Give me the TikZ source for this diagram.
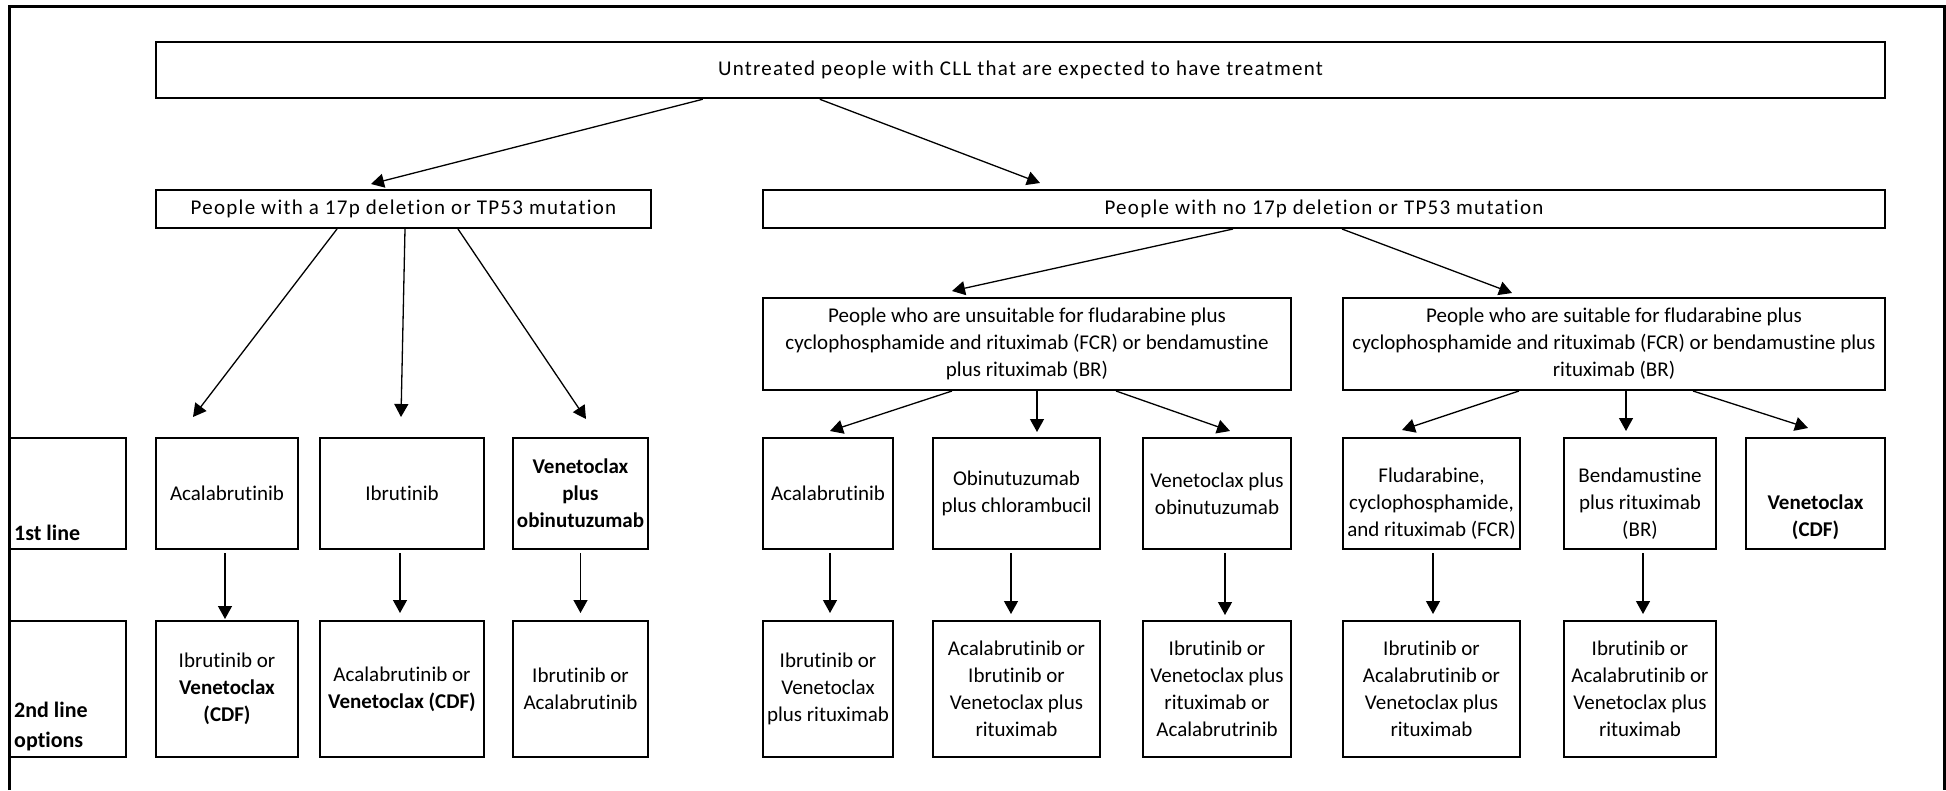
\documentclass[tikz,border=0pt]{standalone}
\usepackage{fontspec}
\setmainfont{Carlito}[Ligatures={NoCommon}]
\usetikzlibrary{arrows.meta}
\begin{document}
\begin{tikzpicture}[x=1pt,y=-1pt,
  box/.style={draw, line width=2pt, inner sep=0pt, align=center,
    font=\fontsize{21}{27}\selectfont},
  boldbox/.style={box, font=\fontsize{21}{27}\selectfont\bfseries},
  widebox/.style={box, font=\fontsize{21}{27}\selectfont\addfontfeature{LetterSpace=6}},
  plain/.style={inner sep=0pt, align=center, font=\fontsize{21}{27}\selectfont},
  lbltext/.style={inner sep=0pt, align=left, font=\fontsize{22}{30}\selectfont\bfseries},
  arr/.style={line width=1.3pt, -{Triangle[width=14pt,length=13pt]}},
  row1/.style={minimum height=111pt},
  row2/.style={minimum height=136pt}]
\useasboundingbox (0,0) rectangle (1946,790);
% outer frame
\draw[line width=3pt] (9,790) -- (9,6) -- (1944,6) -- (1944,790);

% top level
\node[widebox, line width=2.5pt, minimum width=1729pt, minimum height=56pt] (top) at (1020.5,70)
  {Untreated people with CLL that are expected to have treatment};
\node[widebox, minimum width=495pt, minimum height=38pt] (g1) at (403.5,209)
  {People with a 17p deletion or TP53 mutation};
\node[widebox, minimum width=1122pt, minimum height=38pt] (g2) at (1324,209)
  {People with no 17p deletion or TP53 mutation};
\node[box, minimum width=528pt, minimum height=92pt] (un) at (1027,344)
  {People who are unsuitable for fludarabine plus\\cyclophosphamide and rituximab (FCR) or bendamustine\\plus rituximab (BR)};
\node[box, minimum width=542pt, minimum height=92pt] (su) at (1614,344)
  {People who are suitable for fludarabine plus\\cyclophosphamide and rituximab (FCR) or bendamustine plus\\rituximab (BR)};

% row labels
\node[box, row1, minimum width=117pt] (L1) at (67.5,493.5) {};
\node[lbltext, anchor=west] (L1t) at (14,533) {1st line};
\node[box, row2, minimum width=117pt] (L2) at (67.5,689) {};
\node[lbltext, anchor=west] (L2t) at (14,727) {2nd line\\options};

% first line
\node[box, row1, minimum width=142pt] (A1) at (227,493.5) {Acalabrutinib};
\node[box, row1, minimum width=164pt] (A2) at (402,493.5) {Ibrutinib};
\node[boldbox, row1, minimum width=135pt] (A3) at (580.5,493.5) {Venetoclax\\plus\\obinutuzumab};
\node[box, row1, minimum width=130pt] (B1) at (828,493.5) {Acalabrutinib};
\node[box, row1, minimum width=167pt] (B2) at (1016.5,493.5) {Obinutuzumab\\plus chlorambucil};
\node[box, row1, minimum width=148pt] (B3) at (1217,493.5) {Venetoclax plus\\obinutuzumab};
\node[box, row1, minimum width=177pt] (C1) at (1431.5,493.5) {};
\node[plain] (C1t) at (1431.5,504) {Fludarabine,\\cyclophosphamide,\\and rituximab (FCR)};
\node[box, row1, minimum width=152pt] (C2) at (1640,493.5) {};
\node[plain] (C2t) at (1640,504) {Bendamustine\\plus rituximab\\(BR)};
\node[box, row1, minimum width=139pt] (C3) at (1815.5,493.5) {};
\node[plain, font=\fontsize{21}{27}\selectfont\bfseries] (C3t) at (1815.5,517.5) {Venetoclax\\(CDF)};

% second line
\node[box, row2, minimum width=142pt] (A1b) at (227,689) {Ibrutinib or\\\textbf{Venetoclax}\\\textbf{(CDF)}};
\node[box, row2, minimum width=164pt] (A2b) at (402,689) {Acalabrutinib or\\\textbf{Venetoclax (CDF)}};
\node[box, row2, minimum width=135pt] (A3b) at (580.5,689) {Ibrutinib or\\Acalabrutinib};
\node[box, row2, minimum width=130pt] (B1b) at (828,689) {Ibrutinib or\\Venetoclax\\plus rituximab};
\node[box, row2, minimum width=167pt] (B2b) at (1016.5,689) {Acalabrutinib or\\Ibrutinib or\\Venetoclax plus\\rituximab};
\node[box, row2, minimum width=148pt] (B3b) at (1217,689) {Ibrutinib or\\Venetoclax plus\\rituximab or\\Acalabrutrinib};
\node[box, row2, minimum width=177pt] (C1b) at (1431.5,689) {Ibrutinib or\\Acalabrutinib or\\Venetoclax plus\\rituximab};
\node[box, row2, minimum width=152pt] (C2b) at (1640,689) {Ibrutinib or\\Acalabrutinib or\\Venetoclax plus\\rituximab};

% arrows: top level
\draw[arr] ([shift={(548,0)}]top.south west) -- ([shift={(216,-5)}]g1.north west);
\draw[arr] ([shift={(665,0)}]top.south west) -- ([shift={(278,-6)}]g2.north west);
% left group
\draw[arr] ([shift={(182,0)}]g1.south west) -- ([shift={(38,-20)}]A1.north west);
\draw[arr] ([shift={(250,0)}]g1.south west) -- ([shift={(82,-20)}]A2.north west);
\draw[arr] ([shift={(303,0)}]g1.south west) -- ([shift={(74,-18)}]A3.north west);
% right group
\draw[arr] ([shift={(471,0)}]g2.south west) -- ([shift={(190,-6)}]un.north west);
\draw[arr] ([shift={(580,0)}]g2.south west) -- ([shift={(170,-4)}]su.north west);
% unsuitable
\draw[arr] ([shift={(190,0)}]un.south west) -- ([shift={(68,-6)}]B1.north west);
\draw[arr] ([shift={(275,0)}]un.south west) -- ([shift={(105,-5)}]B2.north west);
\draw[arr] ([shift={(354,0)}]un.south west) -- ([shift={(88,-6)}]B3.north west);
% suitable
\draw[arr] ([shift={(177,0)}]su.south west) -- ([shift={(60,-7)}]C1.north west);
\draw[arr] ([shift={(284,0)}]su.south west) -- ([shift={(63,-6)}]C2.north west);
\draw[arr] ([shift={(351,0)}]su.south west) -- ([shift={(63,-9)}]C3.north west);
% first to second line
\draw[arr] ([shift={(-2,3)}]A1.south) -- ([shift={(-2,-1)}]A1b.north);
\draw[arr] ([shift={(-2,3)}]A2.south) -- ([shift={(-2,-7)}]A2b.north);
\draw[arr] ([shift={(0,3)}]A3.south) -- ([shift={(0,-7)}]A3b.north);
\draw[arr] ([shift={(2,3)}]B1.south) -- ([shift={(2,-7)}]B1b.north);
\draw[arr] ([shift={(-5.5,3)}]B2.south) -- ([shift={(-5.5,-6)}]B2b.north);
\draw[arr] ([shift={(8,3)}]B3.south) -- ([shift={(8,-5)}]B3b.north);
\draw[arr] ([shift={(1.5,3)}]C1.south) -- ([shift={(1.5,-6)}]C1b.north);
\draw[arr] ([shift={(3,3)}]C2.south) -- ([shift={(3,-6)}]C2b.north);
\end{tikzpicture}
\end{document}
